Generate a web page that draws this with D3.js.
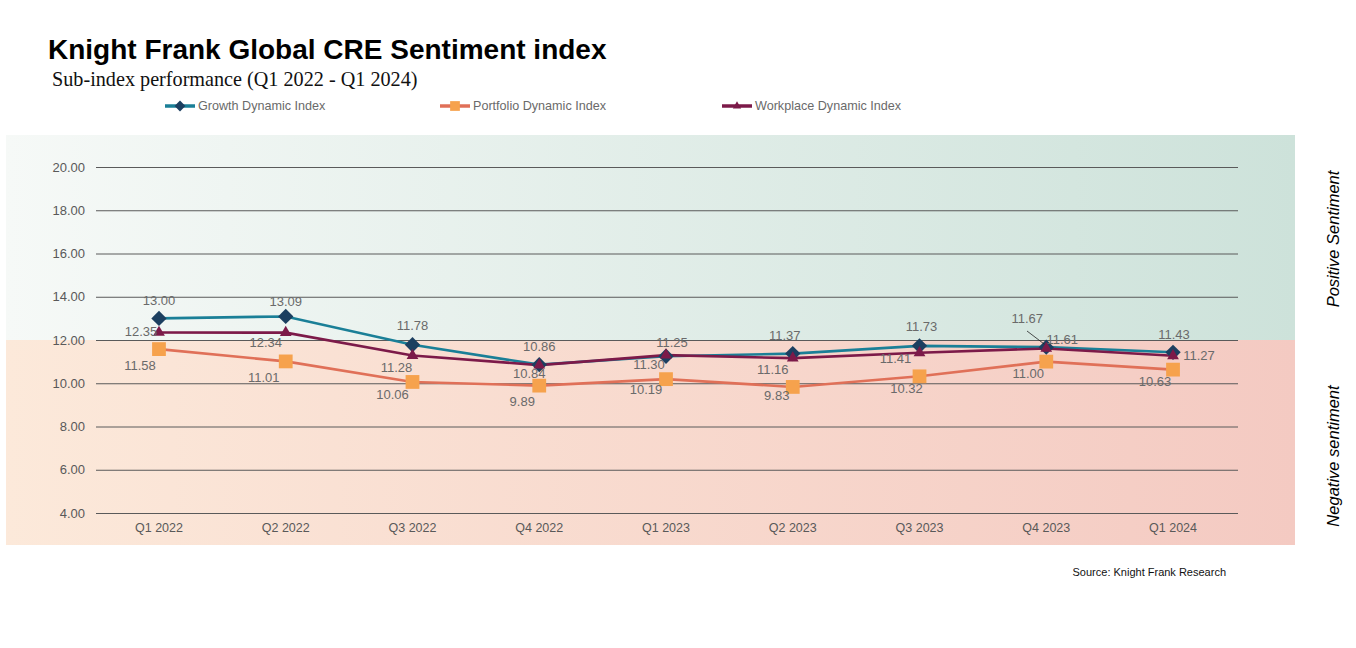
<!DOCTYPE html>
<html><head><meta charset="utf-8">
<script src="https://cdn.jsdelivr.net/npm/d3@7"></script>
<style>body{margin:0;background:#fff;} svg{display:block;}</style>
</head><body>
<script>
const categories = ["Q1 2022","Q2 2022","Q3 2022","Q4 2022","Q1 2023","Q2 2023","Q3 2023","Q4 2023","Q1 2024"];
const growth    = [13.00, 13.09, 11.78, 10.86, 11.25, 11.37, 11.73, 11.67, 11.43];
const portfolio = [11.58, 11.01, 10.06, 9.89, 10.19, 9.83, 10.32, 11.00, 10.63];
const workplace = [12.35, 12.34, 11.28, 10.84, 11.30, 11.16, 11.41, 11.61, 11.27];
const yTicks = [4, 6, 8, 10, 12, 14, 16, 18, 20];
const seriesNames = ["Growth Dynamic Index","Portfolio Dynamic Index","Workplace Dynamic Index"];
const threshold = 12;

const W = 1356, H = 648;
const FONT = "Liberation Sans, Arial, sans-serif";
const svg = d3.select("body").append("svg").attr("width", W).attr("height", H);
const defs = svg.append("defs");
const g1 = defs.append("linearGradient").attr("id","gPos");
g1.append("stop").attr("offset","0%").attr("stop-color","#f6f9f7");
g1.append("stop").attr("offset","100%").attr("stop-color","#cde2da");
const g2 = defs.append("linearGradient").attr("id","gNeg");
g2.append("stop").attr("offset","0%").attr("stop-color","#fce9da");
g2.append("stop").attr("offset","100%").attr("stop-color","#f4cac2");

const x = d3.scaleBand().domain(categories).range([95.6, 1236.4]);
const y = d3.scaleLinear().domain([4, 20]).range([513, 167]);
const cx = c => x(c) + x.bandwidth()/2;

// backgrounds
svg.append("rect").attr("x",6).attr("y",135).attr("width",1289).attr("height",y(threshold)-135).attr("fill","url(#gPos)");
svg.append("rect").attr("x",6).attr("y",y(threshold)).attr("width",1289).attr("height",545-y(threshold)).attr("fill","url(#gNeg)");

// grid & y axis
const yAxis = d3.axisLeft(y).tickValues(yTicks).tickFormat(d3.format(".2f")).tickSize(-(1238-96)).tickPadding(11);
const ya = svg.append("g").attr("transform","translate(96,0)").call(yAxis);
ya.select(".domain").remove();
ya.selectAll("line").attr("stroke","#5a5a5a").attr("stroke-width",1);
ya.selectAll("text").attr("fill","#595959").style("font-family",FONT).style("font-size","13px");

// x axis labels
const xAxis = d3.axisBottom(x).tickSize(0).tickPadding(10);
const xa = svg.append("g").attr("transform","translate(0,513)").call(xAxis);
xa.select(".domain").remove();
xa.selectAll("text").attr("fill","#595959").style("font-family",FONT).style("font-size","12.5px");

const series = [
  {name: seriesNames[0], data: growth, line:"#1a7f97", marker:"#1c3f60", shape:d3.symbolDiamond2, size:150},
  {name: seriesNames[1], data: portfolio, line:"#e07058", marker:"#f6a24d", shape:d3.symbolSquare, size:190},
  {name: seriesNames[2], data: workplace, line:"#7c1a49", marker:"#7c1a49", shape:d3.symbolTriangle, size:60}
];
const lineGen = d3.line().x((d,i)=>cx(categories[i])).y(d=>y(d));
[series[1], series[0], series[2]].forEach(s=>{
  svg.append("path").datum(s.data).attr("d",lineGen).attr("fill","none").attr("stroke",s.line).attr("stroke-width",2.6);
});
[series[1], series[0], series[2]].forEach(s=>{
  svg.selectAll(null).data(s.data).enter().append("path")
    .attr("d", d3.symbol().type(s.shape).size(s.size))
    .attr("transform",(d,i)=>`translate(${cx(categories[i])},${y(d)})`)
    .attr("fill", s.marker);
});

// data labels: offsets [dx, dy] of label centre relative to point
const growthOff = [[0,-18],[0,-15],[0,-19],[0,-18],[6,-14],[-8,-18],[2,-19],[-19,-29],[1,-18]];
const portOff = [[-19,16],[-22,16],[-20,12],[-17,16],[-20,10],[-16,9],[-13,12],[-18,12],[-18,12]];
const workOff = [[-18,-1],[-20,10],[-16,12],[-10,8],[-17,9],[-20,11],[-24,6],[16,-9],[26,0]];
const lbl = (data, off) => data.forEach((d,i)=>{
  svg.append("text").attr("x", cx(categories[i])+off[i][0]).attr("y", y(d)+off[i][1])
    .attr("dy","0.35em")
    .attr("text-anchor","middle").attr("fill","#6a6a6a")
    .style("font-family",FONT).style("font-size","13px")
    .text(d3.format(".2f")(d));
});
lbl(growth, growthOff); lbl(portfolio, portOff); lbl(workplace, workOff);
// leader line for Q4 2023 growth
svg.append("line").attr("x1",1027).attr("y1",331).attr("x2",cx(categories[7])-2).attr("y2",y(growth[7])-3)
  .attr("stroke","#222").attr("stroke-width",0.8);

// title
svg.append("text").attr("x",48).attr("y",59).text("Knight Frank Global CRE Sentiment index")
  .style("font-family",FONT).style("font-weight","bold").style("font-size","28px").attr("fill","#000");
svg.append("text").attr("x",52).attr("y",86).text("Sub-index performance (Q1 2022 - Q1 2024)")
  .style("font-family","Liberation Serif, Times New Roman, serif").style("font-size","20.2px").attr("fill","#111");

// legend
const legX = [165, 440, 722];
series.forEach((s,i)=>{
  const lg = svg.append("g").attr("transform",`translate(${legX[i]},106)`);
  lg.append("line").attr("x1",0).attr("x2",30).attr("stroke",s.line).attr("stroke-width",3.5);
  lg.append("path").attr("d", d3.symbol().type(s.shape).size(s.size*0.5)).attr("transform","translate(15,0)").attr("fill",s.marker);
  lg.append("text").attr("x",33).attr("y",0).attr("dy","0.35em").text(s.name).attr("fill","#6a6a6a")
    .style("font-family",FONT).style("font-size","12.6px");
});

// side labels
svg.append("text").attr("transform",`translate(1339,239) rotate(-90)`).attr("text-anchor","middle")
  .text("Positive Sentiment").style("font-family",FONT).style("font-style","italic").style("font-size","16.5px");
svg.append("text").attr("transform",`translate(1339,456) rotate(-90)`).attr("text-anchor","middle")
  .text("Negative sentiment").style("font-family",FONT).style("font-style","italic").style("font-size","16.5px");

// source
svg.append("text").attr("x",1226).attr("y",576).attr("text-anchor","end").text("Source: Knight Frank Research")
  .style("font-family",FONT).style("font-size","11px").attr("fill","#111");
</script>
</body></html>
